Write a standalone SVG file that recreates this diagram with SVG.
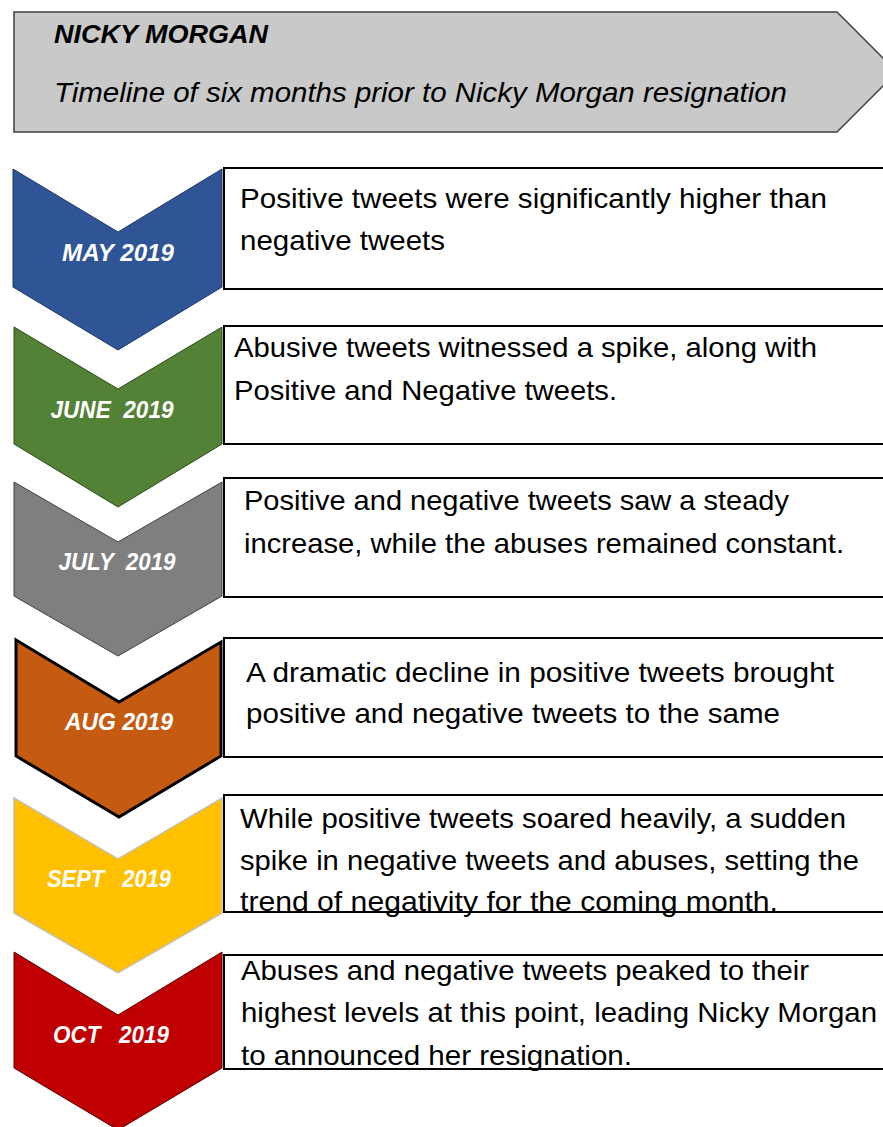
<svg xmlns="http://www.w3.org/2000/svg" width="883" height="1127" viewBox="0 0 883 1127">
<style>
.body{font-family:"Liberation Sans",Arial,sans-serif;font-size:28.5px;fill:#000;}
.lbl{font-family:"Liberation Sans",Arial,sans-serif;font-size:23px;font-weight:bold;font-style:italic;fill:#fff;text-anchor:middle;white-space:pre;}
.box{fill:#fff;stroke:#000;stroke-width:2;}
.hd1{font-family:"Liberation Sans",Arial,sans-serif;font-size:25px;font-weight:bold;font-style:italic;fill:#000;}
.hd2{font-family:"Liberation Sans",Arial,sans-serif;font-size:28px;font-style:italic;fill:#000;}
</style>
<rect width="883" height="1127" fill="#fff"/>
<g id="header">
<polygon points="14,12 837,12 897,72 837,132 14,132" fill="#c9c9c9" stroke="#404040" stroke-width="1.5"/>
<text class="hd1" x="54" y="43" textLength="214" lengthAdjust="spacingAndGlyphs">NICKY MORGAN</text>
<text class="hd2" x="54" y="102" textLength="733" lengthAdjust="spacingAndGlyphs">Timeline of six months prior to Nicky Morgan resignation</text>
</g>
<g id="node-may">
<polygon points="13,169 118,232 222,169 222,287 118,350 13,287" fill="#2f5597" stroke="#1f3763" stroke-width="1"/>
<text class="lbl" x="118" y="261" textLength="112" lengthAdjust="spacingAndGlyphs">MAY 2019</text>
<rect class="box" x="224" y="168" width="670" height="121"/>
<text class="body" x="240" y="208" textLength="587" lengthAdjust="spacingAndGlyphs">Positive tweets were significantly higher than</text>
<text class="body" x="240" y="250" textLength="205" lengthAdjust="spacingAndGlyphs">negative tweets</text>
</g>
<g id="node-june">
<polygon points="14,327 118,389 222,327 222,444 118,507 14,444" fill="#538135" stroke="#2d4a1c" stroke-width="1"/>
<text class="lbl" x="112" y="418" textLength="123" lengthAdjust="spacingAndGlyphs">JUNE  2019</text>
<rect class="box" x="224" y="326" width="670" height="118"/>
<text class="body" x="234" y="357" textLength="583" lengthAdjust="spacingAndGlyphs">Abusive tweets witnessed a spike, along with</text>
<text class="body" x="234" y="400" textLength="383" lengthAdjust="spacingAndGlyphs">Positive and Negative tweets.</text>
</g>
<g id="node-july">
<polygon points="14,482 118,542 222,482 222,596 118,656 14,596" fill="#7f7f7f" stroke="#404040" stroke-width="1"/>
<text class="lbl" x="117" y="570" textLength="117" lengthAdjust="spacingAndGlyphs">JULY  2019</text>
<rect class="box" x="224" y="478" width="670" height="119"/>
<text class="body" x="244" y="510" textLength="545" lengthAdjust="spacingAndGlyphs">Positive and negative tweets saw a steady</text>
<text class="body" x="244" y="553" textLength="600" lengthAdjust="spacingAndGlyphs">increase, while the abuses remained constant.</text>
</g>
<g id="node-aug">
<polygon points="16,640 119,702 221,642 221,756 119,817 16,756" fill="#c55a11" stroke="#000" stroke-width="3"/>
<text class="lbl" x="119" y="730" textLength="108" lengthAdjust="spacingAndGlyphs">AUG 2019</text>
<rect class="box" x="224" y="638" width="670" height="119"/>
<text class="body" x="246" y="682" textLength="588" lengthAdjust="spacingAndGlyphs">A dramatic decline in positive tweets brought</text>
<text class="body" x="246" y="723" textLength="534" lengthAdjust="spacingAndGlyphs">positive and negative tweets to the same</text>
</g>
<g id="node-sept">
<polygon points="14,798 118,859 222,798 222,913 118,973 14,913" fill="#ffc000" stroke="#c8c0b0" stroke-width="1.5"/>
<text class="lbl" x="109" y="887" textLength="124" lengthAdjust="spacingAndGlyphs">SEPT   2019</text>
<rect class="box" x="224" y="795" width="670" height="117"/>
<text class="body" x="240" y="828" textLength="606" lengthAdjust="spacingAndGlyphs">While positive tweets soared heavily, a sudden</text>
<text class="body" x="240" y="870" textLength="619" lengthAdjust="spacingAndGlyphs">spike in negative tweets and abuses, setting the</text>
<text class="body" x="240" y="911" textLength="538" lengthAdjust="spacingAndGlyphs">trend of negativity for the coming month.</text>
</g>
<g id="node-oct">
<polygon points="14,952 118,1015 222,952 222,1068 118,1130 14,1068" fill="#c00000" stroke="#5a0000" stroke-width="1"/>
<text class="lbl" x="111" y="1043" textLength="116" lengthAdjust="spacingAndGlyphs">OCT   2019</text>
<rect class="box" x="224" y="955" width="670" height="114"/>
<text class="body" x="241" y="980" textLength="568" lengthAdjust="spacingAndGlyphs">Abuses and negative tweets peaked to their</text>
<text class="body" x="241" y="1022" textLength="636" lengthAdjust="spacingAndGlyphs">highest levels at this point, leading Nicky Morgan</text>
<text class="body" x="241" y="1065" textLength="391" lengthAdjust="spacingAndGlyphs">to announced her resignation.</text>
</g>
</svg>
